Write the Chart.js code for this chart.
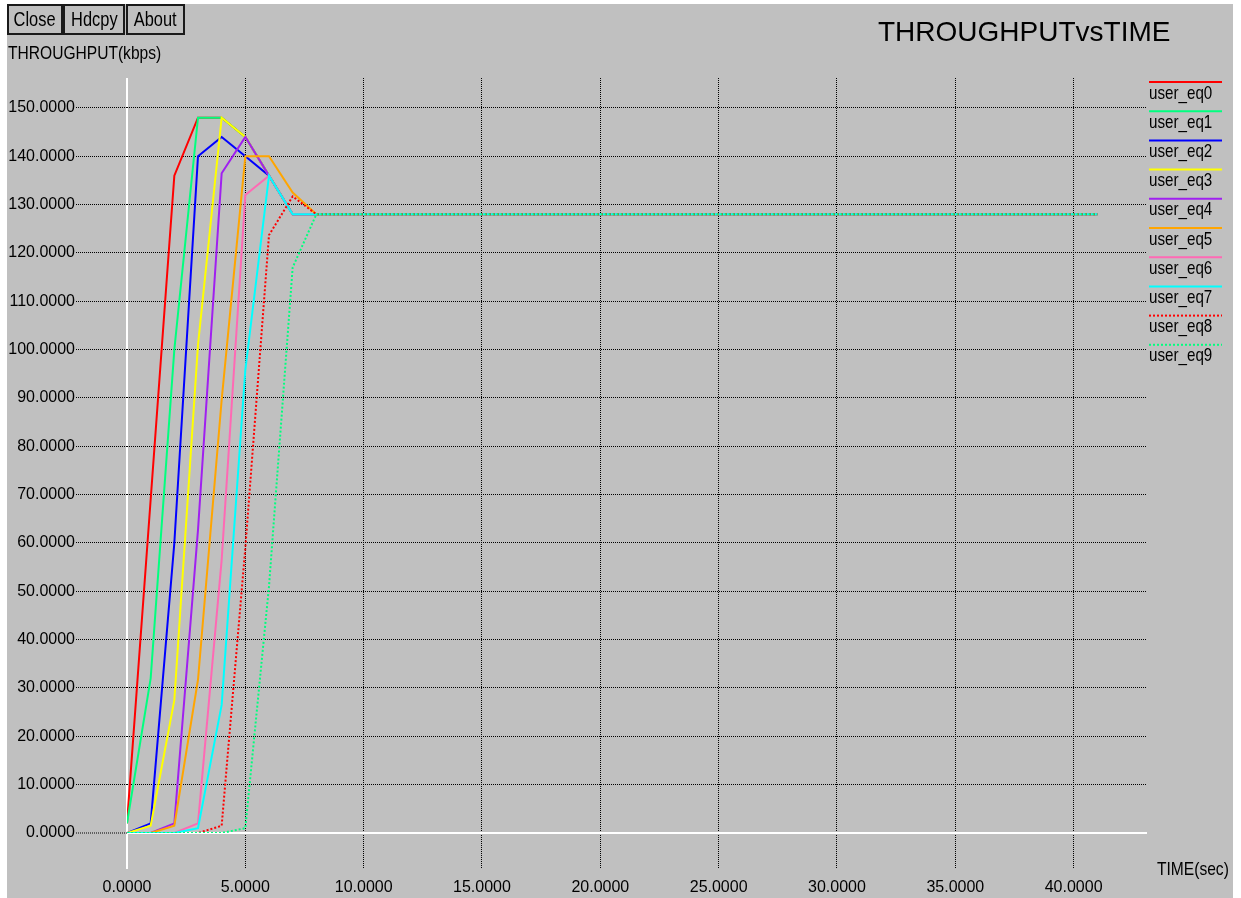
<!DOCTYPE html>
<html>
<head>
<meta charset="utf-8">
<script src="https://cdn.jsdelivr.net/npm/chart.js@4.4.1/dist/chart.umd.min.js"></script>
<style>
  html, body { margin:0; padding:0; background:#ffffff; width:1241px; height:898px; overflow:hidden; }
  #panel { position:absolute; left:7px; top:4px; width:1226px; height:894px; background:#c0c0c0; }
  #c { position:absolute; left:0; top:0; }
  .btn { position:absolute; top:4px; height:27px; border:2px solid #1a1a1a; box-sizing:content-box;
         font-family:'Liberation Sans',Arial,sans-serif; font-size:20px; line-height:27px; text-align:center; color:#000; white-space:nowrap; }
  .btn span, .lbl span { display:inline-block; transform:scaleX(0.82); transform-origin:left center; }
  .btn span { transform-origin:center center; }
  .lbl { position:absolute; color:#000; white-space:nowrap; font-family:'Liberation Sans',Arial,sans-serif; }
</style>
</head>
<body>
<div id="panel"></div>
<canvas id="c" width="1241" height="898"></canvas>
<div class="btn" style="left:7px;width:52px;"><span>Close</span></div>
<div class="btn" style="left:63px;width:58px;"><span>Hdcpy</span></div>
<div class="btn" style="left:126px;width:55px;"><span>About</span></div>
<div class="lbl" style="left:8px;top:43px;font-size:19px;line-height:19px;"><span>THROUGHPUT(kbps)</span></div>
<div class="lbl" style="left:878px;top:18px;font-size:28px;line-height:27px;">THROUGHPUTvsTIME</div>
<div class="lbl" style="left:1157px;top:859px;font-size:19px;line-height:19px;"><span>TIME(sec)</span></div>
<script>
// ---- data ----
const TIME = [0, 1, 2, 3, 4, 5, 6, 7, 8, 41];
const user_eq0 = [2, 69, 136, 148, 148, 144, 136, 128, 128, 128];
const user_eq1 = [2, 32, 100, 148, 148, 144, 136, 128, 128, 128];
const user_eq2 = [0, 2, 60, 140, 144, 140, 136, 128, 128, 128];
const user_eq3 = [0, 1.5, 27.5, 101, 148, 144, 136, 128, 128, 128];
const user_eq4 = [0, 0, 2, 62.7, 136.5, 144, 136, 128, 128, 128];
const user_eq5 = [0, 0, 1.5, 31.7, 89.6, 140, 140, 132.5, 128, 128];
const user_eq6 = [0, 0, 0, 2, 56.5, 132, 136, 128, 128, 128];
const user_eq7 = [0, 0, 0, 1, 26.5, 95.8, 136, 128, 128, 128];
const user_eq8 = [0, 0, 0, 0, 1.5, 59, 123.7, 131.7, 128, 128];
const user_eq9 = [0, 0, 0, 0, 0, 1, 51, 117, 128, 128];
const SERIES_NAMES = ['user_eq0','user_eq1','user_eq2','user_eq3','user_eq4','user_eq5','user_eq6','user_eq7','user_eq8','user_eq9'];
const SERIES = [user_eq0,user_eq1,user_eq2,user_eq3,user_eq4,user_eq5,user_eq6,user_eq7,user_eq8,user_eq9];
const X_TICKS = [0, 5, 10, 15, 20, 25, 30, 35, 40];
const Y_TICKS = [0, 10, 20, 30, 40, 50, 60, 70, 80, 90, 100, 110, 120, 130, 140, 150];

// ---- styles ----
const COLORS = ['#ff0000','#00ff7f','#0000ff','#ffff00','#a020f0','#ffa500','#ff69b4','#00ffff','#ff0000','#00ff7f'];
const DOTTED = [false,false,false,false,false,false,false,false,true,true];
const FONT = "'Liberation Sans',Arial,sans-serif";

const legendPlugin = {
  id: 'sideLegend',
  afterDraw(chart) {
    const ctx = chart.ctx;
    ctx.save();
    chart.data.datasets.forEach((ds, i) => {
      const y = 82 + i * 29.2;
      ctx.beginPath();
      ctx.strokeStyle = ds.borderColor;
      ctx.lineWidth = 2;
      ctx.setLineDash(ds.borderDash || []);
      ctx.moveTo(1149, y);
      ctx.lineTo(1222, y);
      ctx.stroke();
      ctx.setLineDash([]);
      ctx.save();
      ctx.translate(1149, y + 11.5);
      ctx.scale(0.82, 1);
      ctx.fillStyle = '#000';
      ctx.font = '18.5px ' + FONT;
      ctx.textBaseline = 'middle';
      ctx.textAlign = 'left';
      ctx.fillText(ds.label, 0, 0);
      ctx.restore();
    });
    ctx.restore();
  }
};

const isZero = c => c.tick && c.tick.value === 0;

new Chart(document.getElementById('c'), {
  type: 'line',
  data: {
    datasets: SERIES.map((vals, i) => ({
      label: SERIES_NAMES[i],
      data: TIME.map((t, j) => ({ x: t, y: vals[j] })),
      borderColor: COLORS[i],
      borderWidth: 2,
      borderDash: DOTTED[i] ? [2, 2] : [],
      pointRadius: 0,
      fill: false,
      tension: 0,
      order: SERIES.length - i
    }))
  },
  options: {
    responsive: false,
    animation: false,
    events: [],
    layout: { padding: { left: 0, top: 78, right: 94, bottom: 0 } },
    plugins: { legend: { display: false }, tooltip: { enabled: false }, title: { display: false } },
    scales: {
      x: {
        type: 'linear', min: 0, max: 43.1,
        afterBuildTicks: s => { s.ticks = X_TICKS.map(v => ({ value: v })); },
        afterFit: s => { s.height = 65; },
        ticks: { callback: v => Number(v).toFixed(4), color: '#000', font: { family: FONT, size: 16 }, padding: 9, maxRotation: 0, autoSkip: false },
        grid: {
          color: c => isZero(c) ? '#ffffff' : '#000000',
          lineWidth: c => isZero(c) ? 2 : 1,
          tickColor: c => isZero(c) ? '#ffffff' : '#000000',
          tickWidth: c => isZero(c) ? 2 : 1,
          tickLength: 36,
          tickBorderDash: c => isZero(c) ? [] : [1, 1]
        },
        border: { display: false, dash: c => isZero(c) ? [] : [1, 1] }
      },
      y: {
        type: 'linear', min: 0, max: 156.2,
        afterBuildTicks: s => { s.ticks = Y_TICKS.map(v => ({ value: v })); },
        afterFit: s => { s.width = 127; },
        ticks: { callback: v => Number(v).toFixed(4), color: '#000', font: { family: FONT, size: 16 }, padding: 1 },
        grid: {
          color: c => isZero(c) ? '#ffffff' : '#000000',
          lineWidth: c => isZero(c) ? 2 : 1,
          tickColor: '#000000',
          tickWidth: 1,
          tickLength: 51,
          tickBorderDash: [1, 1]
        },
        border: { display: false, dash: c => isZero(c) ? [] : [1, 1] }
      }
    }
  },
  plugins: [legendPlugin]
});
</script>
</body>
</html>
